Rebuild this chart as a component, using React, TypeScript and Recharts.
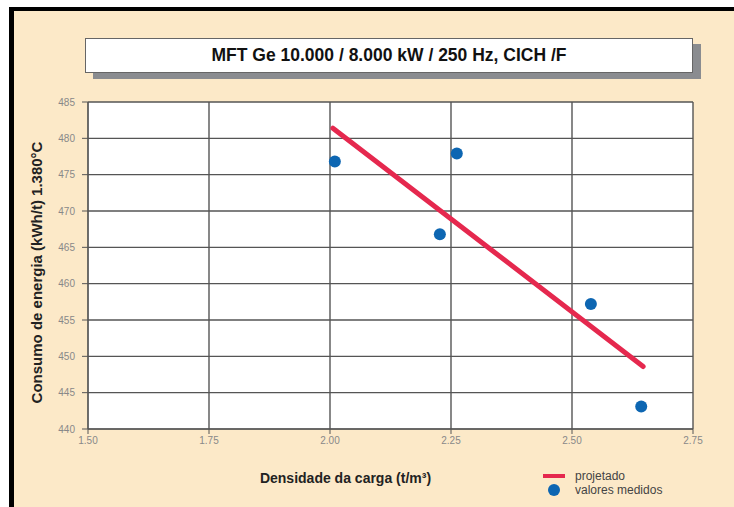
import { CartesianGrid, ComposedChart, Line, Scatter, XAxis, YAxis } from "recharts";

const xTicks = [1.5, 1.75, 2.0, 2.25, 2.5, 2.75];
const yTicks = [440, 445, 450, 455, 460, 465, 470, 475, 480, 485];

// valores medidos
const measuredX = [2.01, 2.262, 2.227, 2.539, 2.643];
const measuredY = [476.8, 477.9, 466.8, 457.2, 443.1];

// projetado
const projectedX = [2.006, 2.647];
const projectedY = [481.4, 448.6];

const measured = measuredX.map((x, i) => ({ x, y: measuredY[i] }));
const projected = projectedX.map((x, i) => ({ x, y: projectedY[i] }));

const BG = "#fce9c8";
const GRID = "#555";
const RED = "#e5284e";
const BLUE = "#0d66b2";
const NARROW = "'Liberation Sans Narrow', 'Liberation Sans', Arial, sans-serif";

function Dot(props: any) {
    const { cx, cy } = props;
    return <circle cx={cx} cy={cy} r={6} fill={BLUE} />;
}

function ChartLegend() {
    return (
        <div style={{
            position: "absolute", left: 543, top: 469, fontFamily: NARROW, fontSize: 12, color: "#444", lineHeight: "14px",
        }}>
            <div style={{ display: "flex", alignItems: "center" }}>
                <div style={{ width: 22, height: 4, background: RED, marginRight: 10 }} />
                <span>projetado</span>
            </div>
            <div style={{ display: "flex", alignItems: "center" }}>
                <div style={{ width: 22, display: "flex", justifyContent: "center", marginRight: 10 }}>
                    <div style={{ width: 12, height: 12, borderRadius: 6, background: BLUE }} />
                </div>
                <span>valores medidos</span>
            </div>
        </div>
    );
}

export default function App() {
    return (
        <div style={{ position: "absolute", left: 0, top: 0, width: 734, height: 507, background: BG, overflow: "hidden" }}>
            <div style={{ position: "absolute", left: 0, top: 0, width: 734, height: 7, background: "#fff" }} />
            <div style={{ position: "absolute", left: 0, top: 0, width: 9, height: 507, background: "#fff" }} />
            <div style={{ position: "absolute", left: 9, top: 7, width: 725, height: 4, background: "#000" }} />
            <div style={{ position: "absolute", left: 9, top: 7, width: 5, height: 500, background: "#000" }} />

            <div style={{ position: "absolute", left: 93, top: 44, width: 608, height: 35, background: "#8a8c90" }} />
            <div style={{
                position: "absolute", left: 85, top: 38, width: 606, height: 33, background: "#fff",
                border: "1px solid #666", display: "flex", alignItems: "center", justifyContent: "center",
                fontFamily: NARROW, fontWeight: "bold", fontSize: 17.5, color: "#111",
            }}>
                MFT Ge 10.000 / 8.000 kW / 250 Hz, CICH /F
            </div>

            <div style={{ position: "absolute", left: 0, top: 0 }}>
                <ComposedChart width={734} height={507} margin={{ top: 102, right: 41, bottom: 0, left: 0 }}>
                    <CartesianGrid stroke={GRID} strokeWidth={1.4} fill="#fff" fillOpacity={1} />
                    <XAxis
                        dataKey="x"
                        type="number"
                        domain={[1.5, 2.75]}
                        ticks={xTicks}
                        tickFormatter={(v: number) => v.toFixed(2)}
                        allowDataOverflow
                        height={78}
                        stroke={GRID}
                        tickSize={5}
                        tickMargin={3}
                        tick={{ fill: "#888", fontSize: 10, fontFamily: NARROW }}
                        label={{
                            content: (p: any) => (
                                <text x={p.viewBox.x + p.viewBox.width / 2 - 45} y={p.viewBox.y + 54}
                                      textAnchor="middle" fontFamily={NARROW} fontWeight="bold" fontSize={14} fill="#222">
                                    Densidade da carga (t/m³)
                                </text>
                            ),
                        }}
                    />
                    <YAxis
                        dataKey="y"
                        type="number"
                        domain={[440, 485]}
                        ticks={yTicks}
                        allowDataOverflow
                        width={88}
                        stroke={GRID}
                        tickSize={6}
                        tickMargin={7}
                        tick={{ fill: "#888", fontSize: 10, fontFamily: NARROW }}
                        label={{
                            content: (p: any) => {
                                const cx = 36;
                                const cy = p.viewBox.y + p.viewBox.height / 2 + 7;
                                return (
                                    <text x={cx} y={cy} transform={`rotate(-90, ${cx}, ${cy})`} textAnchor="middle"
                                          dominantBaseline="central" fontFamily={NARROW} fontWeight="bold" fontSize={15} fill="#222">
                                        Consumo de energia (kWh/t) 1.380°C
                                    </text>
                                );
                            },
                        }}
                    />
                    <Line
                        data={projected}
                        dataKey="y"
                        name="projetado"
                        stroke={RED}
                        strokeWidth={5}
                        strokeLinecap="round"
                        dot={false}
                        activeDot={false}
                        isAnimationActive={false}
                    />
                    <Scatter
                        data={measured}
                        dataKey="y"
                        name="valores medidos"
                        fill={BLUE}
                        shape={<Dot />}
                        isAnimationActive={false}
                    />
                </ComposedChart>
            </div>
            <ChartLegend />
        </div>
    );
}
